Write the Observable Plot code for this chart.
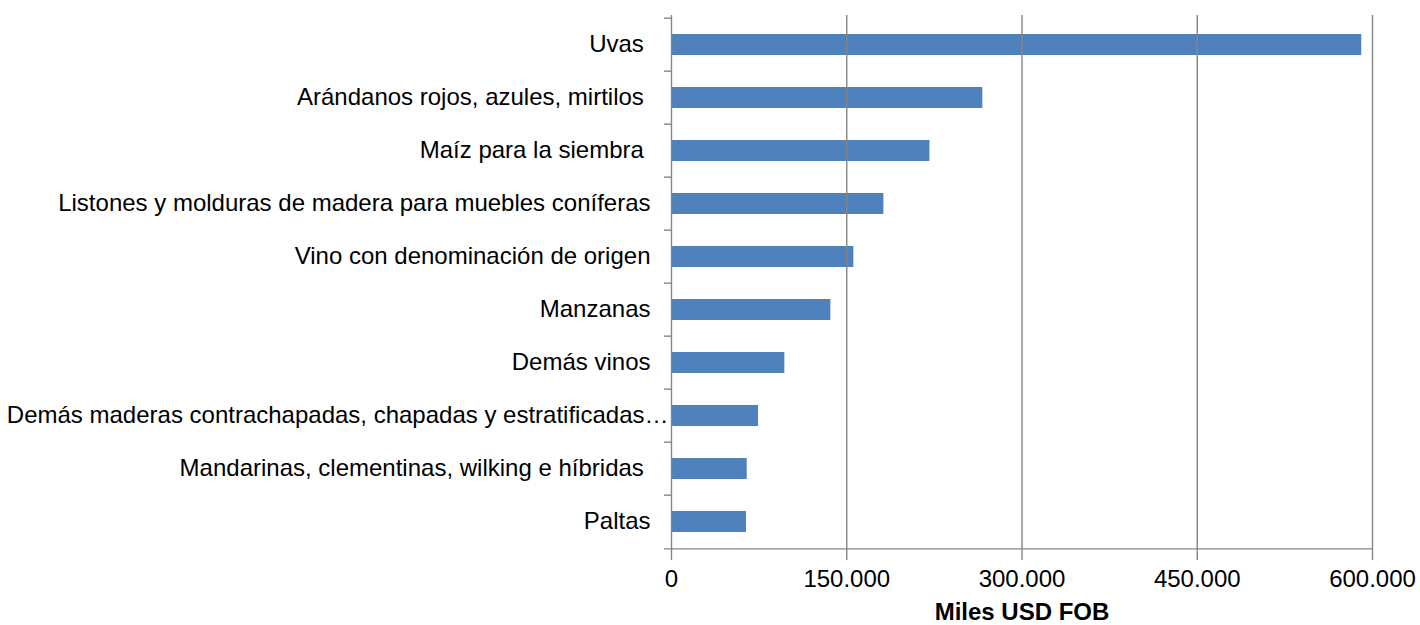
<!DOCTYPE html>
<html>
<head>
<meta charset="utf-8">
<script src="https://cdn.jsdelivr.net/npm/d3@7"></script>
<script src="https://cdn.jsdelivr.net/npm/@observablehq/plot@0.6"></script>
<style>
  html, body { margin: 0; padding: 0; background: #fff; }
  svg text { white-space: pre; }
</style>
</head>
<body>
<div id="chart"></div>
<script>
const categories = [
  "Uvas ",
  "Arándanos rojos, azules, mirtilos ",
  "Maíz para la siembra ",
  "Listones y molduras de madera para muebles coníferas",
  "Vino con denominación de origen",
  "Manzanas",
  "Demás vinos",
  "Demás maderas contrachapadas, chapadas y estratificadas…",
  "Mandarinas, clementinas, wilking e híbridas ",
  "Paltas"
];
const values = [590800, 266500, 221200, 181800, 156100, 136400, 97000, 74500, 64800, 64200];
const xTicks = [0, 150000, 300000, 450000, 600000];
const xTickLabels = ["0", "150.000", "300.000", "450.000", "600.000"];
const xLabel = "Miles USD FOB";

const data = categories.map((c, i) => ({cat: c, value: values[i]}));

const W = 1420, H = 625, mT = 15, mB = 73, mL = 671, mR = 48;
const step = (H - mT - mB) / categories.length;
const gray = "#868686";
const fontSize = 24;

const chart = Plot.plot({
  width: W,
  height: H,
  marginTop: mT,
  marginBottom: mB,
  marginLeft: mL,
  marginRight: mR,
  style: {fontFamily: "'Liberation Sans', Arial, sans-serif", fontSize: fontSize + "px", color: "#000", background: "#fff"},
  x: {domain: [0, 600000], axis: null},
  y: {domain: categories, paddingInner: 0.6, paddingOuter: 0.3, axis: null},
  marks: [
    Plot.barX(data, {x: "value", y: "cat", fill: "#4F81BD"}),
    // vertical gridlines (extend below axis as ticks)
    Plot.ruleX(xTicks, {x: d => d, stroke: gray, strokeWidth: 1.4, insetBottom: -8}),
    // category boundary ticks on the y axis
    Plot.ruleY(categories, {y: d => d, x1: 0, x2: 0, dy: -step / 2, insetLeft: -7, stroke: gray, strokeWidth: 1.4}),
    // bottom axis line
    Plot.ruleY([categories[categories.length - 1]], {y: d => d, x1: 0, x2: 600000, dy: step / 2, insetLeft: -7, stroke: gray, strokeWidth: 1.4}),
    // category labels
    Plot.text(categories.filter(c => !c.endsWith("…")), {y: d => d, text: d => d, frameAnchor: "left", textAnchor: "end", dx: -21, dy: -1, fill: "#000"}),
    Plot.text(categories.filter(c => c.endsWith("…")), {y: d => d, text: d => d, frameAnchor: "left", textAnchor: "end", dx: -3, dy: -1, fill: "#000"}),
    // x tick labels
    Plot.text(xTicks, {x: d => d, text: (d, i) => xTickLabels[i], frameAnchor: "bottom", dy: 34, fill: "#000"}),
    // x axis title
    Plot.text([xLabel], {text: d => d, frameAnchor: "bottom", dy: 67, fontWeight: "bold", fill: "#000"})
  ]
});
document.getElementById("chart").appendChild(chart);
</script>
</body>
</html>
